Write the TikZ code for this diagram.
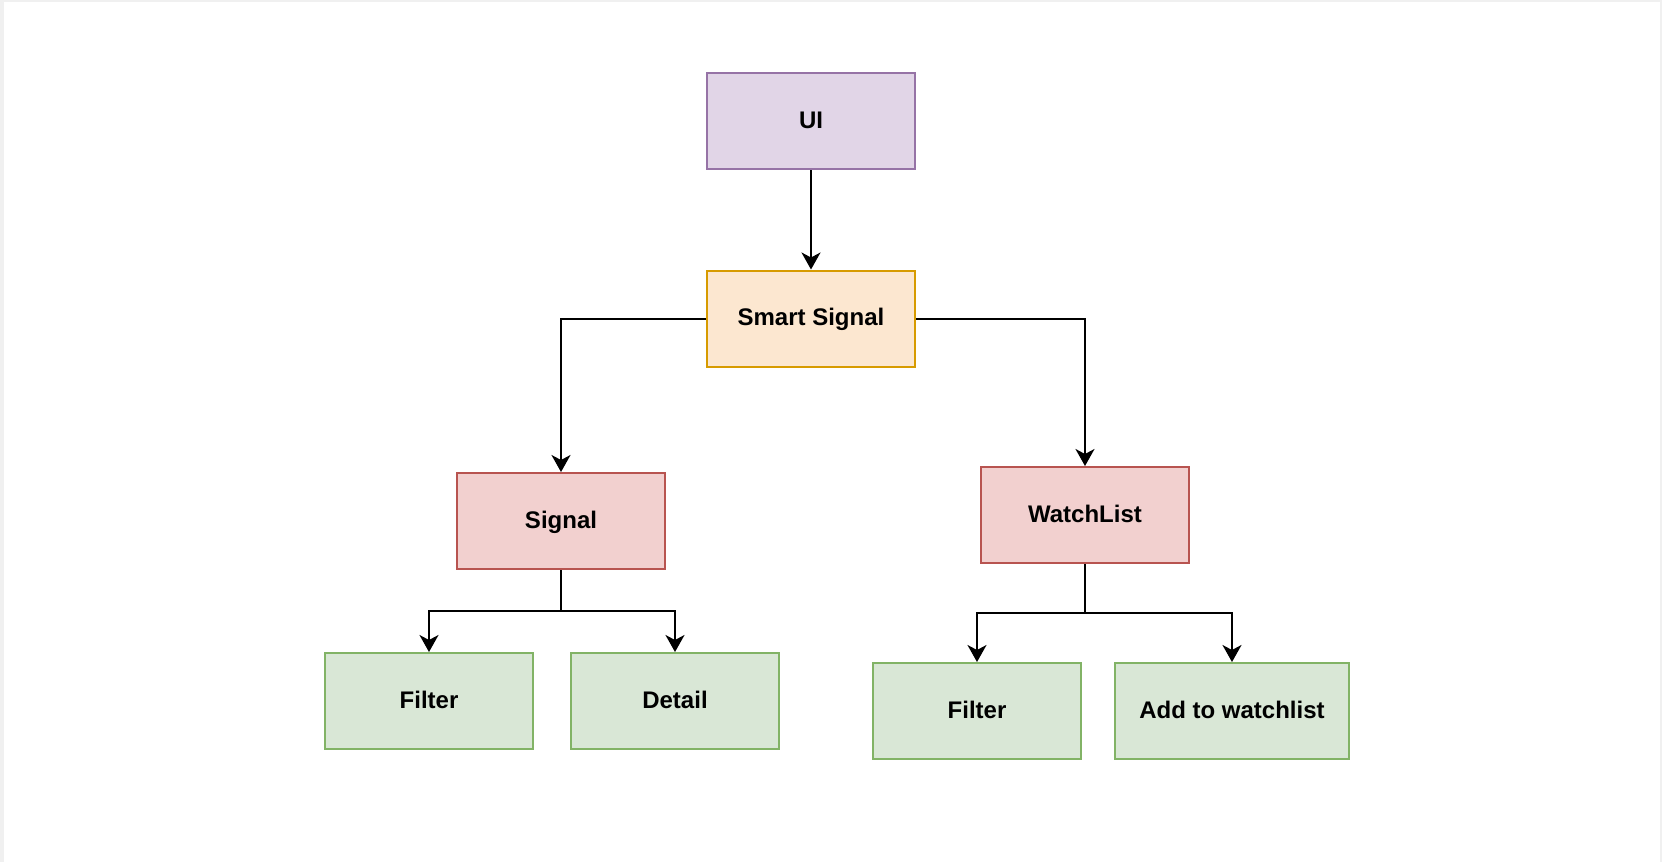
\documentclass[tikz,border=0pt]{standalone}
\usepackage{fontspec}
\setmainfont{Liberation Sans}
\usetikzlibrary{arrows.meta,calc}

\begin{document}
\begin{tikzpicture}[x=0.5pt,y=-0.5pt,>={Stealth[length=8.5pt,width=9.5pt,inset=2.5pt]},
		box/.style={draw,line width=1pt,minimum width=104pt,minimum height=48pt,font=\fontsize{12}{14}\selectfont\bfseries,inner sep=0pt,text height=8.6pt,text depth=1.5pt},
		uibox/.style={box,draw={rgb,255:red,150;green,115;blue,166},fill={rgb,255:red,225;green,213;blue,231}},
		mainbox/.style={box,draw={rgb,255:red,215;green,155;blue,0},fill={rgb,255:red,252;green,231;blue,208}},
		featbox/.style={box,draw={rgb,255:red,184;green,84;blue,80},fill={rgb,255:red,242;green,208;blue,207}},
		actbox/.style={box,draw={rgb,255:red,130;green,179;blue,102},fill={rgb,255:red,217;green,231;blue,214}},
		link/.style={->,line width=1pt}]
		\useasboundingbox (0,0) rectangle (1662,862);
		\fill[gray!12] (0,0) rectangle (1662,862);
		\fill[white] (4,2) rectangle (1660,862);
		\node[uibox] (ui) at (811,121) {UI};
		\node[mainbox] (smart) at (811,318.5) {Smart Signal};
		\node[featbox] (signal) at (561,521) {Signal};
		\node[featbox] (watch) at (1085,515) {WatchList};
		\node[actbox] (sfilter) at (429,701) {Filter};
		\node[actbox] (detail) at (675,701) {Detail};
		\node[actbox] (wfilter) at (977,711) {Filter};
		\node[actbox,minimum width=117pt] (addwatch) at (1232,711) {Add to watchlist};
		\coordinate (sbranch) at (561,611);
		\coordinate (wbranch) at (1085,613);
		\draw[link] (ui) -- (smart);
		\draw[link] (smart.west) -| (signal.north);
		\draw[link] (smart.east) -| (watch.north);
		\draw[line width=1pt] (signal.south) -- (sbranch);
		\draw[link] (sbranch) -| (sfilter.north);
		\draw[link] (sbranch) -| (detail.north);
		\draw[line width=1pt] (watch.south) -- (wbranch);
		\draw[link] (wbranch) -| (wfilter.north);
		\draw[link] (wbranch) -| (addwatch.north);
	\end{tikzpicture}
\end{document}
